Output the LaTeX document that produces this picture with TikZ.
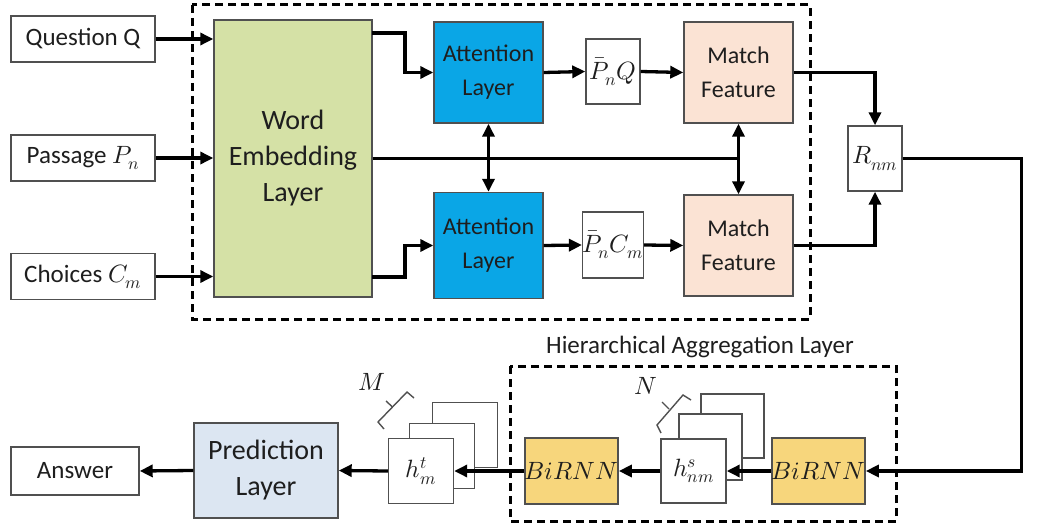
\documentclass[tikz,border=0pt]{standalone}
\usepackage{fontspec}
\usepackage{unicode-math}
\setmainfont{Carlito}
\setmathfont{Latin Modern Math}
\usetikzlibrary{arrows.meta,calc}
\definecolor{wegreen}{HTML}{D5E1A6}
\definecolor{attblue}{HTML}{0AA6E6}
\definecolor{matchpeach}{HTML}{FBE3D4}
\definecolor{predblue}{HTML}{DCE6F2}
\definecolor{rnngold}{HTML}{F7D67C}
\definecolor{edgegray}{HTML}{505050}
\definecolor{txt}{HTML}{1E1E1E}
\begin{document}
\begin{tikzpicture}[x=1pt,y=-1pt,
  box/.style={draw=edgegray, line width=1.4pt, align=center, inner sep=0pt, text=txt, fill=white},
  inbox/.style={box, minimum width=144pt, minimum height=46pt, font=\fontsize{25}{30}\selectfont},
  bigbox/.style={box, font=\fontsize{28}{36}\selectfont},
  midbox/.style={box, minimum width=109pt, minimum height=101pt, font=\fontsize{24}{34}\selectfont},
  smallbox/.style={box, minimum width=54pt, minimum height=65pt, font=\fontsize{25}{30}\selectfont},
  hbox/.style={box, minimum width=65pt, minimum height=65pt, font=\fontsize{25}{30}\selectfont},
  rnnbox/.style={box, fill=rnngold, minimum height=66pt, font=\fontsize{25}{30}\selectfont},
  arr/.style={line width=3.3pt, -{Triangle[length=13pt,width=12pt]}},
  dbl/.style={line width=3.3pt, {Triangle[length=13pt,width=12pt]}-{Triangle[length=13pt,width=12pt]}},
  plain/.style={line width=3.3pt},
  group/.style={draw=black, line width=3pt, dash pattern=on 8pt off 5pt},
  brack/.style={draw=edgegray, line width=1.4pt}
]
\useasboundingbox (0,0) rectangle (1041,524);

% dashed groups
\draw[group] (192,5) rectangle (810,319);
\draw[group] (510,366) rectangle (896,521);
\node[font=\fontsize{25}{30}\selectfont, text=txt] (hal) at (700,347) {Hierarchical Aggregation Layer};

% inputs
\node[inbox] (q) at (83,39) {Question Q};
\node[inbox] (p) at (83,158) {Passage $P_n$};
\node[inbox] (c) at (83,276.5) {Choices $C_m$};

% word embedding
\node[bigbox, fill=wegreen, minimum width=158pt, minimum height=277pt] (we) at (293,158.5) {Word\\Embedding\\Layer};

% attention
\node[midbox, fill=attblue] (a1) at (488.5,72.5) {Attention\\Layer};
\node[midbox, fill=attblue, minimum height=106pt] (a2) at (488.5,245.5) {Attention\\Layer};

% intermediate
\node[smallbox] (pq) at (613,71.5) {$\bar{P}_nQ$};
\node[smallbox, minimum height=66pt] (pc) at (613,245) {$\bar{P}_nC_m$};

% match
\node[midbox, fill=matchpeach] (m1) at (738.5,72.5) {Match\\Feature};
\node[midbox, fill=matchpeach] (m2) at (738.5,245.5) {Match\\Feature};

% R
\node[smallbox] (r) at (875,158.5) {$R_{nm}$};

% bottom row
\node[inbox, minimum width=128pt, minimum height=48pt] (ans) at (75,471) {Answer};
\node[bigbox, fill=predblue, minimum width=144pt, minimum height=95pt] (pred) at (266,470.5) {Prediction\\Layer};

\node[hbox] (htb) at (465,435) {};
\node[hbox] (htm) at (442,456) {};
\node[hbox] (ht) at (421,471) {$h^t_m$};

\node[rnnbox, minimum width=89pt] (b1) at (571.5,471) {$BiRNN$};

\node[hbox, minimum height=64pt, minimum width=63pt] (hsb) at (732.5,426) {};
\node[hbox, minimum height=66pt, minimum width=63pt] (hsm) at (710.5,447) {};
\node[hbox, minimum height=64pt] (hs) at (693.5,471) {$h^s_{nm}$};

\node[rnnbox, minimum width=87pt] (b2) at (818.5,471) {$BiRNN$};

% labels M, N and brackets
\node[font=\fontsize{25}{30}\selectfont, text=txt] (lm) at (372,382) {$M$};
\node[font=\fontsize{25}{30}\selectfont, text=txt] (ln) at (646,386) {$N$};
\draw[brack] (384,429) -- (378,422) -- (407,392) -- (414,398);
\draw[brack] (392.5,407) -- (386,401);
\draw[brack] (661,433) -- (657,425) -- (683,395) -- (691,400);
\draw[brack] (669,409) -- (662,402);

% connectors
\coordinate (weq) at (372,33);
\coordinate (wec) at (372,277);
\draw[arr] (q.east) -- (q.east -| we.west);
\draw[arr] (p.east) -- (p.east -| we.west);
\draw[arr] (c.east) -- (c.east -| we.west);
\draw[arr] (weq) -- ++(33,0) |- (a1.west);
\draw[arr] (wec) -- ++(33,0) |- (a2.west);
\draw[plain] (we.east) -- (we.east -| m1.south);
\draw[dbl] (a1.south) -- (a2.north);
\draw[dbl] (m1.south) -- (m2.north);
\draw[arr] (a1.east) -- (pq.west);
\draw[arr] (pq.east) -- (m1.west);
\draw[arr] (a2.east) -- (pc.west);
\draw[arr] (pc.east) -- (m2.west);
\draw[arr] (m1.east) -| (r.north);
\draw[arr] (m2.east) -| (r.south);
\draw[arr] (r.east) -- ++(119,0) |- (b2.east);
\draw[arr] (b2.west) -- (hs.east);
\draw[arr] (hs.west) -- (b1.east);
\draw[arr] (b1.west) -- (ht.east);
\draw[arr] (ht.west) -- (pred.east);
\draw[arr] (pred.west) -- (ans.east);
\end{tikzpicture}
\end{document}
